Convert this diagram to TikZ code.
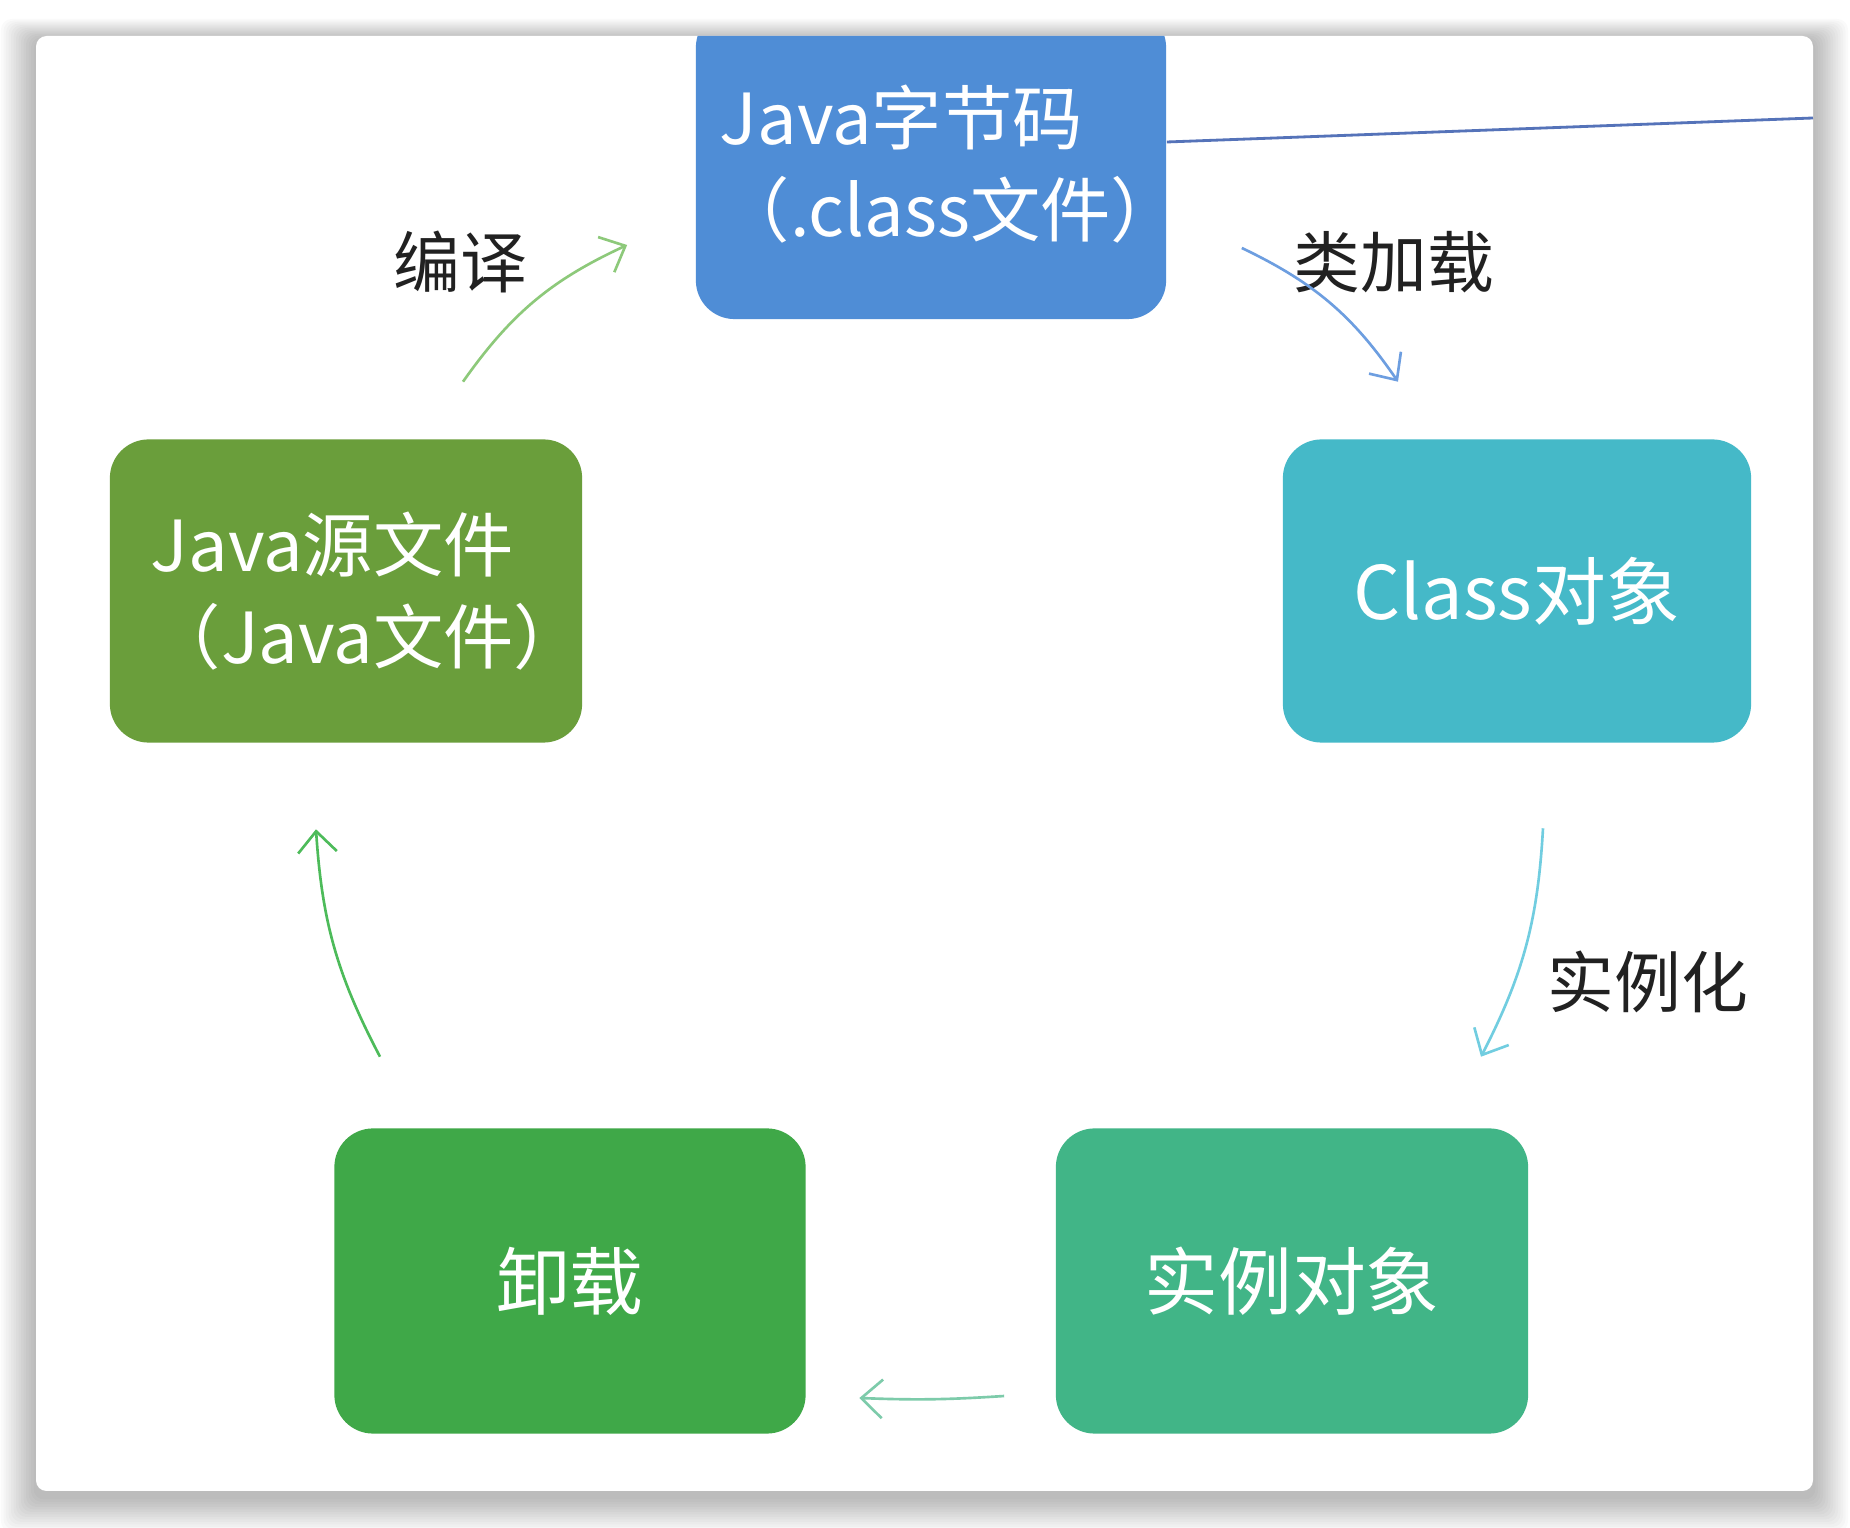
\documentclass[tikz,border=0pt]{standalone}
\usepackage{fontspec}
\newfontfamily\cjk{Noto Sans CJK SC}
\usetikzlibrary{arrows.meta}
\definecolor{byteblue}{HTML}{4F8DD6}
\definecolor{srcgreen}{HTML}{6A9E3B}
\definecolor{clsteal}{HTML}{45B9C8}
\definecolor{unloadgreen}{HTML}{3FA848}
\definecolor{instgreen}{HTML}{41B587}
\tikzset{
  box/.style={rounded corners=11pt, inner sep=0pt, text=white, align=left,
    font=\cjk\fontsize{21}{26}\selectfont},
  twoline/.style={font=\cjk\fontsize{20}{26}\selectfont},
  arr/.style={->, line width=0.75pt},
  lbl/.style={text=black!87, font=\cjk\fontsize{19}{23}\selectfont},
  >={Straight Barb[length=6pt,width=11pt]}
}
\begin{document}
\begin{tikzpicture}[x=0.01cm, y=-0.01cm]
\useasboundingbox (0,0) rectangle (1850,1528);
\fill[white] (0,0) rectangle (1850,1528);
\foreach \i in {1,...,14}
	{\fill[black, opacity=0.018, rounded corners=3pt] (36-2.5*\i,36-1.5*\i+4) rectangle (1813+2.5*\i,1491+2.5*\i+6);}
\fill[white, rounded corners=3pt] (36,36) rectangle (1813,1491);
\begin{scope}
\clip[rounded corners=3pt] (36,36) rectangle (1813,1491);
\node[box, twoline, fill=byteblue, text width=4.22cm, minimum width=4.7cm, minimum height=3.1cm] (byte) at (931,164) {Java字节码\\（.class文件）};
\end{scope}
\node[box, twoline, fill=srcgreen, text width=3.9cm, minimum width=4.72cm, minimum height=3.03cm] (src) at (346,591) {Java源文件\\（Java文件）};
\node[box, fill=clsteal, minimum width=4.68cm, minimum height=3.03cm] (cls) at (1517,591) {Class对象};
\node[box, fill=instgreen, minimum width=4.72cm, minimum height=3.05cm] (inst) at (1292,1281) {实例对象};
\node[box, fill=unloadgreen, minimum width=4.71cm, minimum height=3.05cm] (unload) at (570,1281) {卸载};
\coordinate (edge) at (1813,118);
\draw[line width=0.8pt, color={rgb,255:red,85;green,115;blue,185}] ([shift={(0,-22)}]byte.east) -- (edge);
\node[lbl] (compile) at (460,262) {编译};
\node[lbl] (load) at (1394,262) {类加载};
\node[lbl] (newobj) at (1648,982) {实例化};
\draw[arr, color={rgb,255:red,141;green,201;blue,122}] ([shift={(117,-57)}]src.north) to[bend left=15] ([shift={(-68,81)}]byte.west);
\draw[arr, color={rgb,255:red,109;green,158;blue,224}] ([shift={(75,84)}]byte.east) to[bend left=15] ([shift={(-119,-57)}]cls.north);
\draw[arr, color={rgb,255:red,113;green,205;blue,224}] ([shift={(26,85)}]cls.south) to[bend left=12] ([shift={(189,-71)}]inst.north);
\draw[arr, color={rgb,255:red,125;green,203;blue,170}] ([shift={(-51,115)}]inst.west) to[bend left=3] ([shift={(53,117)}]unload.east);
\draw[arr, color={rgb,255:red,77;green,187;blue,90}] ([shift={(-190,-71)}]unload.north) to[bend left=12] ([shift={(-30,86)}]src.south);
\end{tikzpicture}
\end{document}
